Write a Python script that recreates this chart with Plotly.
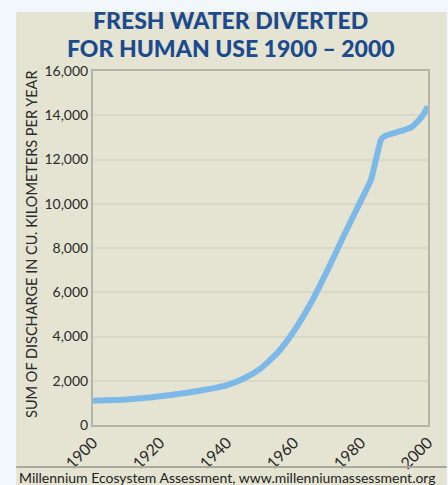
import plotly.graph_objects as go

years = [1900, 1910, 1920, 1930, 1940, 1945, 1950, 1955, 1960, 1965, 1970, 1975, 1980, 1983, 1986, 1987, 1990, 1995, 1998, 2000]
discharge = [1100, 1150, 1300, 1500, 1800, 2100, 2550, 3250, 4250, 5500, 7000, 8600, 10150, 11100, 12900, 13050, 13200, 13450, 13900, 14400]
y_ticks = [0, 2000, 4000, 6000, 8000, 10000, 12000, 14000, 16000]
x_ticks = [1900, 1920, 1940, 1960, 1980, 2000]
title_lines = ["FRESH WATER DIVERTED", "FOR HUMAN USE 1900 – 2000"]

W, H = 448, 485
L, R, T, B = 93, 433, 71, 425

def px(x):
    return (x - L) / (R - L)

def py(y):
    return (B - y) / (B - T)

fig = go.Figure()
fig.add_trace(go.Scatter(
    x=years, y=discharge, mode="lines",
    line=dict(color="#7db9e8", width=6, shape="spline", smoothing=0.5),
    hoverinfo="x+y", showlegend=False,
))

font_fam = "Lato, Open Sans, sans-serif"

annotations = []
for i, line in enumerate(title_lines):
    annotations.append(dict(
        text=line, xref="paper", yref="paper", x=px(233), y=py(20 + 28 * i),
        xanchor="center", yanchor="middle", showarrow=False, borderpad=0,
        font=dict(family=font_fam, size=23, color="#1b4a8e", weight=900)))

annotations += [
    dict(text="SUM OF DISCHARGE IN CU. KILOMETERS PER YEAR",
         xref="paper", yref="paper", x=px(30), y=py(244),
         xanchor="center", yanchor="middle", textangle=-90, showarrow=False,
         font=dict(family=font_fam, size=14.5, color="#2a2a2a")),
    dict(text="Millennium Ecosystem Assessment, www.millenniumassessment.org",
         xref="paper", yref="paper", x=px(16), y=py(477),
         xanchor="left", yanchor="middle", showarrow=False,
         font=dict(family=font_fam, size=14, color="#222222")),
]

fig.update_layout(
    width=W, height=H,
    margin=dict(l=L, r=W - R, t=T, b=H - B),
    paper_bgcolor="#f2f7fc",
    plot_bgcolor="#fdfbea",
    xaxis=dict(
        range=[1900, 2000], tickvals=x_ticks, ticktext=[str(v) for v in x_ticks],
        tickangle=-45, tickfont=dict(family=font_fam, size=16, color="#2a2a2a"),
        showgrid=False, zeroline=False, showline=True, linecolor="#b5b4a8", linewidth=2,
        mirror=True, ticks="", fixedrange=True,
    ),
    yaxis=dict(
        range=[0, 16000], tickvals=y_ticks, ticktext=[f"{v:,}" for v in y_ticks],
        tickfont=dict(family=font_fam, size=14, color="#2a2a2a"),
        showgrid=True, gridcolor="#d9d7c6", gridwidth=1.5,
        zeroline=False, showline=True, linecolor="#b5b4a8", linewidth=2,
        mirror=True, ticks="", fixedrange=True,
    ),
    shapes=[
        dict(type="rect", xref="paper", yref="paper",
             x0=px(15), x1=px(452), y0=py(490), y1=py(12),
             fillcolor="#e5e4d2", line=dict(width=0), layer="below"),
        dict(type="line", xref="paper", yref="paper",
             x0=px(15), x1=px(452), y0=py(467), y1=py(467),
             line=dict(color="#a9a89a", width=2)),
    ],
    annotations=annotations,
)

fig.write_html("out.html")
